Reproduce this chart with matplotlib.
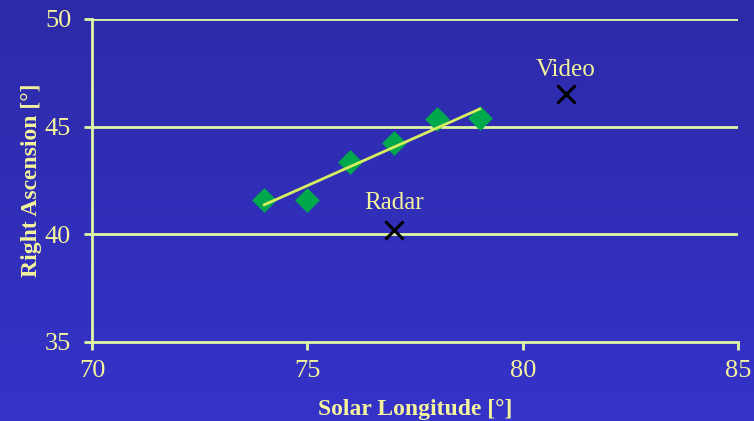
import numpy as np
import matplotlib.pyplot as plt
from matplotlib.colors import LinearSegmentedColormap

plt.rcParams['font.family'] = ['Liberation Serif', 'DejaVu Serif']

# shower radiant positions
sol_long = [74, 75, 76, 77, 78, 79]
right_asc = [41.6, 41.6, 43.35, 44.25, 45.35, 45.4]

# single-point estimates from other methods
others = ['Video', 'Radar']
others_sl = [81, 77]
others_ra = [46.5, 40.2]
label_off = [13, 15]

pale = '#e0f6a4'
txt = '#f4f49c'

fig = plt.figure(figsize=(7.54, 4.21), dpi=100)

# blue gradient backdrop
bg = fig.add_axes([0, 0, 1, 1], zorder=-10)
cmap = LinearSegmentedColormap.from_list('bg', ['#2d2aa8', '#3533c9'])
bg.imshow(np.linspace(0, 1, 256).reshape(-1, 1), aspect='auto', cmap=cmap,
          extent=[0, 1, 0, 1])
bg.axis('off')

ax = fig.add_axes([0.122, 0.188, 0.857, 0.767])
ax.patch.set_alpha(0)

ax.set_xlim(70, 85)
ax.set_ylim(35, 50)
ax.set_xticks([70, 75, 80, 85])
ax.set_yticks([35, 40, 45, 50])
for y in [40, 45, 50]:
    ax.axhline(y, color=pale, lw=2, zorder=1)

for s in ['top', 'right']:
    ax.spines[s].set_visible(False)
for s in ['left', 'bottom']:
    ax.spines[s].set_color(pale)
    ax.spines[s].set_linewidth(2)
ax.tick_params(colors=pale, width=2, length=6, labelcolor=txt, labelsize=19)
ax.tick_params(axis='x', pad=7)
ax.tick_params(axis='y', pad=9)

ax.scatter(sol_long, right_asc, marker='D', s=160, color='#00a84c', zorder=3,
           linewidths=0)

# linear trend through the radiant points
k, b = np.polyfit(sol_long, right_asc, 1)
xs = np.array([sol_long[0], sol_long[-1]])
ax.plot(xs, k * xs + b, color='#d8f060', lw=2, zorder=4)

ax.scatter(others_sl, others_ra, marker='x', s=170, color='black',
           linewidths=2.2, zorder=5)
for name, x, y, off in zip(others, others_sl, others_ra, label_off):
    ax.annotate(name, (x, y), xytext=(0, off), textcoords='offset points',
                ha='center', va='baseline', color=txt, fontsize=18)

ax.set_xlabel('Solar Longitude [°]', color=txt, fontsize=17,
              fontweight='bold', labelpad=12)
ax.set_ylabel('Right Ascension [°]', color=txt, fontsize=17,
              fontweight='bold', labelpad=2)

fig.savefig('out.png', dpi=100)
